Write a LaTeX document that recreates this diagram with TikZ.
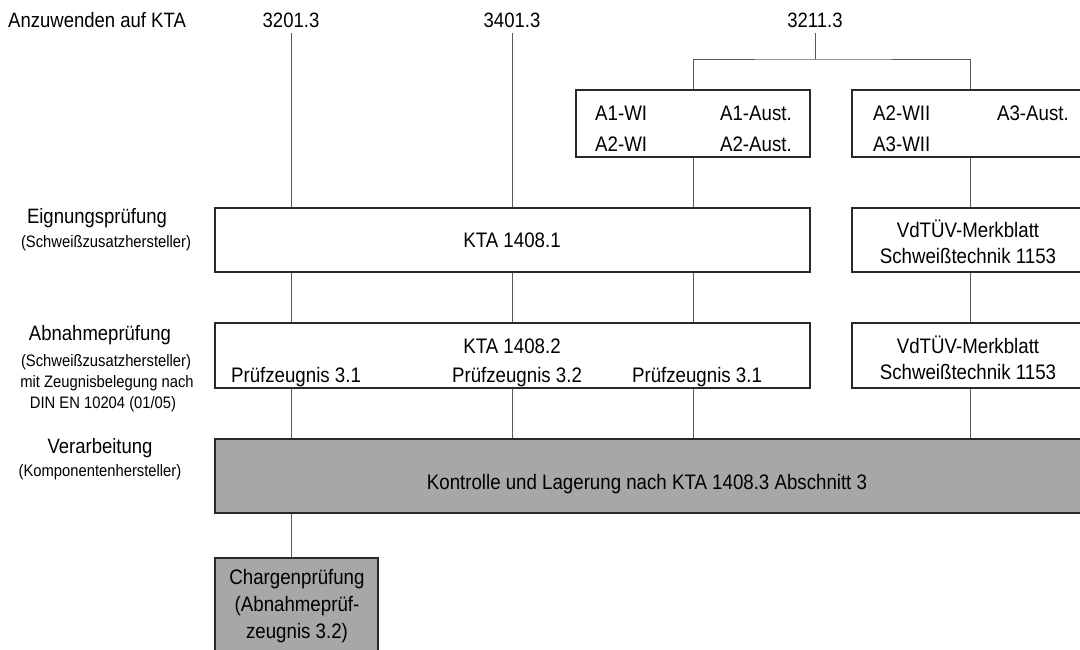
\documentclass[tikz,border=0pt]{standalone}
\usepackage{fontspec}
\setmainfont{Liberation Sans}[FakeStretch=0.89]
\definecolor{gfill}{RGB}{166,167,169}
\definecolor{bord}{RGB}{40,40,40}
\definecolor{lin}{RGB}{90,90,90}
\begin{document}
\begin{tikzpicture}[x=1pt,y=-1pt,
  box/.style={draw=bord, line width=1.2pt, fill=white, inner sep=0pt},
  gbox/.style={box, fill=gfill},
  conn/.style={draw=lin, line width=1pt},
  head/.style={font=\fontsize{20.8}{22}\selectfont, inner sep=0pt, anchor=base},
  sub/.style={font=\fontsize{16.6}{18}\selectfont, inner sep=0pt, anchor=base},
  txt/.style={font=\fontsize{21}{23}\selectfont, inner sep=0pt, anchor=base}]
\useasboundingbox (0,0) rectangle (1080,649);
\clip (0,0) rectangle (1080,649);
% top labels
\node[head, anchor=base west] (anz) at (8,27) {Anzuwenden auf KTA};
\node[head] (n1) at (291,27) {3201.3};
\node[head] (n2) at (512,27) {3401.3};
\node[head] (n3) at (815,27) {3211.3};
\coordinate (n1b) at (291,33);
\coordinate (n2b) at (512,33);
\coordinate (n3b) at (815,33);
% boxes
\node[box, minimum width=234, minimum height=67] (a1) at (693,123.5) {};
\node[box, minimum width=240, minimum height=67] (a2) at (972,123.5) {};
\node[box, minimum width=595, minimum height=64] (k1) at (512.5,240) {};
\node[box, minimum width=240, minimum height=64] (v1) at (972,240) {};
\node[box, minimum width=595, minimum height=65] (k2) at (512.5,355.5) {};
\node[box, minimum width=240, minimum height=65] (v2) at (972,355.5) {};
\node[gbox, minimum width=880, minimum height=74] (g) at (655,476) {};
\node[gbox, minimum width=163, minimum height=104] (ch) at (296.5,610) {};
% column coordinates
\coordinate (c1) at (291,0);
\coordinate (c2) at (512,0);
\coordinate (c3) at (693,0);
\coordinate (c4) at (970,0);
\coordinate (br) at (815,59);
% connectors
\draw[conn] (n1b) -- (c1 |- k1.north);
\draw[conn] (n2b) -- (c2 |- k1.north);
\draw[conn] (n3b) -- (br);
\draw[conn] (a1.north) |- (br) -| (c4 |- a2.north);
\draw[conn] (a1.south) -- (c3 |- k1.north);
\draw[conn] (c4 |- a2.south) -- (c4 |- v1.north);
\foreach \c in {c1,c2,c3}{
  \draw[conn] (\c |- k1.south) -- (\c |- k2.north);
  \draw[conn] (\c |- k2.south) -- (\c |- g.north);
}
\draw[conn] (c4 |- v1.south) -- (c4 |- v2.north);
\draw[conn] (c4 |- v2.south) -- (c4 |- g.north);
\draw[conn] (c1 |- g.south) -- (c1 |- ch.north);
% box texts
\node[txt, anchor=base west] (t11) at (595,120) {A1-WI};
\node[txt, anchor=base east] (t12) at (792,120) {A1-Aust.};
\node[txt, anchor=base west] (t13) at (595,151) {A2-WI};
\node[txt, anchor=base east] (t14) at (792,151) {A2-Aust.};
\node[txt, anchor=base west] (t21) at (873,120) {A2-WII};
\node[txt, anchor=base east] (t22) at (1069,120) {A3-Aust.};
\node[txt, anchor=base west] (t23) at (873,151) {A3-WII};
\node[txt] (tk1) at (512,247) {KTA 1408.1};
\node[txt] (tv11) at (968,237) {VdTÜV-Merkblatt};
\node[txt] (tv12) at (968,263) {Schweißtechnik 1153};
\node[txt] (tk2) at (512,353) {KTA 1408.2};
\node[txt] (p1) at (296,382) {Prüfzeugnis 3.1};
\node[txt] (p2) at (517,382) {Prüfzeugnis 3.2};
\node[txt] (p3) at (697,382) {Prüfzeugnis 3.1};
\node[txt] (tv21) at (968,353) {VdTÜV-Merkblatt};
\node[txt] (tv22) at (968,379) {Schweißtechnik 1153};
\node[txt] (tg) at (647,489) {Kontrolle und Lagerung nach KTA 1408.3 Abschnitt 3};
\node[txt] (tc1) at (297,584) {Chargenprüfung};
\node[txt] (tc2) at (297,611) {(Abnahmeprüf-};
\node[txt] (tc3) at (297,638) {zeugnis 3.2)};
% left labels
\node[head] (l1) at (97,223) {Eignungsprüfung};
\node[sub] (l1s) at (106,247) {(Schweißzusatzhersteller)};
\node[head] (l2) at (100,340) {Abnahmeprüfung};
\node[sub] (l2s) at (106,366) {(Schweißzusatzhersteller)};
\node[sub] (l2t) at (107,387) {mit Zeugnisbelegung nach};
\node[sub] (l2u) at (103,408) {DIN EN 10204 (01/05)};
\node[head] (l3) at (100,453) {Verarbeitung};
\node[sub] (l3s) at (100,476) {(Komponentenhersteller)};
\end{tikzpicture}
\end{document}
